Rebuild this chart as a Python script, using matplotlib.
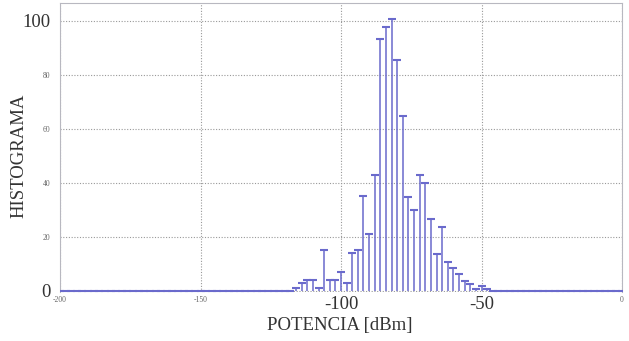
import numpy as np
import matplotlib
matplotlib.use("Agg")
import matplotlib.pyplot as plt

# ---- data ----
bin_centers = list(range(-118, -44, 2))  # dBm
counts = [0, 1, 3, 4, 4, 1, 15, 4, 4, 7, 3, 14, 15, 35, 21, 43,
          93, 97.5, 100.5, 85.5, 64.5, 34.6, 29.7, 43, 40, 26.7, 13.7, 23.6,
          10.7, 8.5, 6, 3.6, 2.5, 0.7, 1.7, 0.6, 0]
full_range = list(range(-200, 1, 2))

x_ticks = [-200, -150, -100, -50, 0]
x_tick_labels = ["-200", "-150", "-100", "-50", "0"]
x_tick_big = [False, False, True, True, False]
y_ticks = [0, 20, 40, 60, 80, 100]
y_tick_labels = ["0", "20", "40", "60", "80", "100"]
y_tick_big = [True, False, False, False, False, True]

# full histogram (zeros outside measured region)
lookup = dict(zip(bin_centers, counts))
full_counts = [lookup.get(x, 0) for x in full_range]

plt.rcParams['font.family'] = ['Liberation Serif', 'DejaVu Serif']

fig = plt.figure(figsize=(6.29, 3.41), dpi=100)
ax = fig.add_axes([60/629, 1 - 292/341, 562/629, 289/341])

color = '#6a6acc'
ax.vlines(full_range, 0, full_counts, color=color, linewidth=1.1, zorder=3)
ax.plot(full_range, full_counts, linestyle='none', marker='_', markersize=5.5,
        markeredgewidth=1.5, color=color, zorder=3)

ax.set_xlim(-200, 0)
ax.set_ylim(-0.5, 106.5)

ax.set_xticks(x_ticks)
ax.set_xticklabels(x_tick_labels)
ax.set_yticks(y_ticks)
ax.set_yticklabels(y_tick_labels)
for lab, big in zip(ax.get_xticklabels(), x_tick_big):
    lab.set_fontsize(13.5 if big else 5.5)
    lab.set_color('#333333' if big else '#666666')
for lab, big in zip(ax.get_yticklabels(), y_tick_big):
    lab.set_fontsize(13.5 if big else 5.5)
    lab.set_color('#333333' if big else '#666666')
ax.tick_params(axis='both', length=0)
ax.tick_params(axis='x', pad=3)
ax.tick_params(axis='y', pad=7)

ax.grid(True, linestyle=(0, (1, 1.5)), color='#999999', linewidth=0.8, zorder=1)

for side in ['left', 'top', 'right']:
    ax.spines[side].set_color('#b8b8c0')
    ax.spines[side].set_linewidth(0.8)
ax.spines['bottom'].set_visible(False)

ax.set_xlabel("POTENCIA [dBm]", fontsize=13.5, color='#333333')
ax.xaxis.set_label_coords(0.498, -0.088)
ax.set_ylabel("HISTOGRAMA", fontsize=13.5, color='#333333')
ax.yaxis.set_label_coords(-0.058, 0.47)

fig.savefig("out.png", dpi=100)
